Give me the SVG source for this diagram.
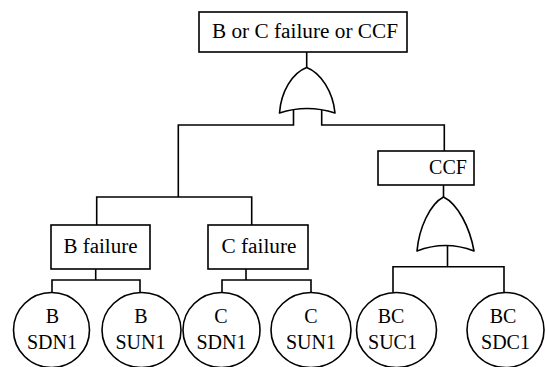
<svg xmlns="http://www.w3.org/2000/svg" width="545" height="367" viewBox="0 0 545 367">
  <style>
    .box { fill: #fff; stroke: #000; stroke-width: 1.6; }
    .gate { fill: #fff; stroke: #000; stroke-width: 1.6; stroke-linejoin: round; }
    .ev { fill: #fff; stroke: #000; stroke-width: 1.6; }
    .wire { fill: none; stroke: #000; stroke-width: 1.6; }
    .lbl { font-family: 'Liberation Serif', 'Times New Roman', serif; font-size: 20px; fill: #000; text-anchor: middle; }
  </style>
  <rect width="545" height="367" fill="#fff"/>

  <!-- connectors -->
  <g id="connectors" class="wire">
    <path d="M306.7,52 V68"/>
    <path d="M293.5,110 V125 H178.3 V197"/>
    <path d="M321.7,110 V125 H444.3 V151"/>
    <path d="M96.7,225 V197 H251.7 V225"/>
    <path d="M95.7,269 V280"/>
    <path d="M52,292.5 V280 H140 V292.5"/>
    <path d="M246,269 V280"/>
    <path d="M222,292.5 V280 H311 V292.5"/>
    <path d="M443.5,185 V197"/>
    <path d="M447.5,246 V266.7"/>
    <path d="M393,292.5 V266.7 H504 V292.5"/>
  </g>

  <!-- top event -->
  <g id="top-event">
    <rect class="box" x="199" y="12" width="208" height="40"/>
    <text class="lbl" x="305" y="37.5" textLength="186" lengthAdjust="spacingAndGlyphs">B or C failure or CCF</text>
  </g>

  <!-- OR gate under the top event -->
  <g id="or-top">
    <path class="gate" d="M279.5,113 C281,92 292,73 306.7,67.5 C321,73 333,92 335,113 Q307,104 279.5,113 Z"/>
  </g>

  <g id="b-failure">
    <rect class="box" x="51" y="225" width="99" height="44"/>
    <text class="lbl" x="100.5" y="253" textLength="74" lengthAdjust="spacingAndGlyphs">B failure</text>
  </g>

  <g id="c-failure">
    <rect class="box" x="208" y="225" width="100" height="44"/>
    <text class="lbl" x="259" y="253" textLength="75" lengthAdjust="spacingAndGlyphs">C failure</text>
  </g>

  <g id="ccf">
    <rect class="box" x="378" y="151" width="96" height="34"/>
    <text class="lbl" x="448" y="173.5">CCF</text>
  </g>

  <!-- OR gate under CCF -->
  <g id="or-ccf">
    <path class="gate" d="M417,251 C419,228 430,204 443.5,197 C458,204 470,228 474,251 Q445.5,240 417,251 Z"/>
  </g>

  <!-- basic events -->
  <g id="b-sdn1">
    <ellipse class="ev" cx="51.5" cy="330" rx="38" ry="37.5"/>
    <text class="lbl" x="52.5" y="323">B</text>
    <text class="lbl" x="52" y="349">SDN1</text>
  </g>
  <g id="b-sun1">
    <ellipse class="ev" cx="141.5" cy="330" rx="39.5" ry="37.5"/>
    <text class="lbl" x="141" y="323">B</text>
    <text class="lbl" x="140.5" y="349">SUN1</text>
  </g>
  <g id="c-sdn1">
    <ellipse class="ev" cx="221.5" cy="330" rx="38.5" ry="37.5"/>
    <text class="lbl" x="221" y="323">C</text>
    <text class="lbl" x="221.5" y="349">SDN1</text>
  </g>
  <g id="c-sun1">
    <ellipse class="ev" cx="311" cy="330" rx="40" ry="37.5"/>
    <text class="lbl" x="311" y="323">C</text>
    <text class="lbl" x="311" y="349">SUN1</text>
  </g>
  <g id="bc-suc1">
    <ellipse class="ev" cx="396.5" cy="330" rx="40" ry="37.5"/>
    <text class="lbl" x="391" y="323">BC</text>
    <text class="lbl" x="392.5" y="349">SUC1</text>
  </g>
  <g id="bc-sdc1">
    <ellipse class="ev" cx="505.5" cy="330" rx="38.5" ry="37.5"/>
    <text class="lbl" x="503" y="323">BC</text>
    <text class="lbl" x="505.5" y="349">SDC1</text>
  </g>
</svg>
